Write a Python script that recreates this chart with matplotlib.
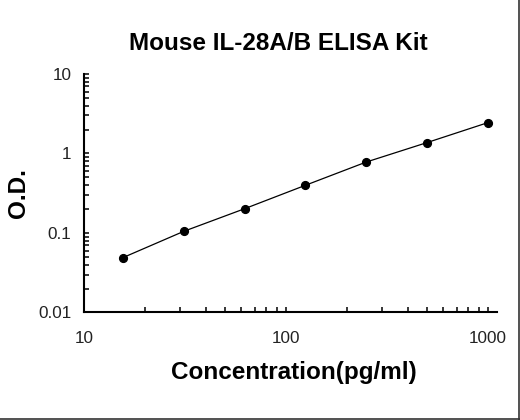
import matplotlib
matplotlib.use("Agg")
import matplotlib.pyplot as plt
from matplotlib.ticker import LogLocator, FixedLocator, FixedFormatter, NullFormatter
from matplotlib.lines import Line2D

plt.rcParams['font.family'] = ['Liberation Sans', 'DejaVu Sans']

concentration = [15.6, 31.25, 62.5, 125, 250, 500, 1000]
od_values = [0.049, 0.105, 0.202, 0.398, 0.78, 1.37, 2.44]
x_ticks = [10, 100, 1000]
x_tick_labels = ["10", "100", "1000"]
y_ticks = [0.01, 0.1, 1, 10]
y_tick_labels = ["0.01", "0.1", "1", "10"]

fig = plt.figure(figsize=(5.2, 4.2), dpi=100)
ax = fig.add_axes([0.1615, 0.256, 0.794, 0.568])

ax.plot(concentration, od_values, color='black', linewidth=0.9,
        marker='o', markersize=5.6, markerfacecolor='black',
        markeredgecolor='black', zorder=3)

ax.set_xscale('log')
ax.set_yscale('log')
ax.set_xlim(10, 1108)
ax.set_ylim(0.01, 10)

ax.xaxis.set_major_locator(FixedLocator(x_ticks))
ax.xaxis.set_major_formatter(FixedFormatter(x_tick_labels))
ax.yaxis.set_major_locator(FixedLocator(y_ticks))
ax.yaxis.set_major_formatter(FixedFormatter(y_tick_labels))
ax.xaxis.set_minor_locator(LogLocator(base=10, subs=range(2, 10)))
ax.yaxis.set_minor_locator(LogLocator(base=10, subs=range(2, 10)))
ax.xaxis.set_minor_formatter(NullFormatter())
ax.yaxis.set_minor_formatter(NullFormatter())

ax.tick_params(which='both', direction='in', length=3.6, width=1.1,
               colors='black', labelcolor='#222222', labelsize=12.3)
ax.tick_params(axis='x', which='major', pad=13)
ax.tick_params(axis='y', which='major', pad=9)

for s in ['top', 'right']:
    ax.spines[s].set_visible(False)
for s in ['left', 'bottom']:
    ax.spines[s].set_linewidth(1.5)

ax.set_title("Mouse IL-28A/B ELISA Kit", fontsize=17.5, fontweight='bold',
             pad=17, x=0.47)
ax.set_xlabel("Concentration(pg/ml)", fontsize=17.5, fontweight='bold')
ax.xaxis.set_label_coords(0.508, -0.203)
ax.set_ylabel("O.D.", fontsize=17.5, fontweight='bold')
ax.yaxis.set_label_coords(-0.13, 0.5)

# thin frame at right and bottom edges
fig.add_artist(Line2D([0.9985, 0.9985], [0, 1], transform=fig.transFigure,
                      color='#333333', linewidth=1.2))
fig.add_artist(Line2D([0, 1], [0.0015, 0.0015], transform=fig.transFigure,
                      color='#333333', linewidth=1.2))

fig.savefig("out.png", dpi=100)
